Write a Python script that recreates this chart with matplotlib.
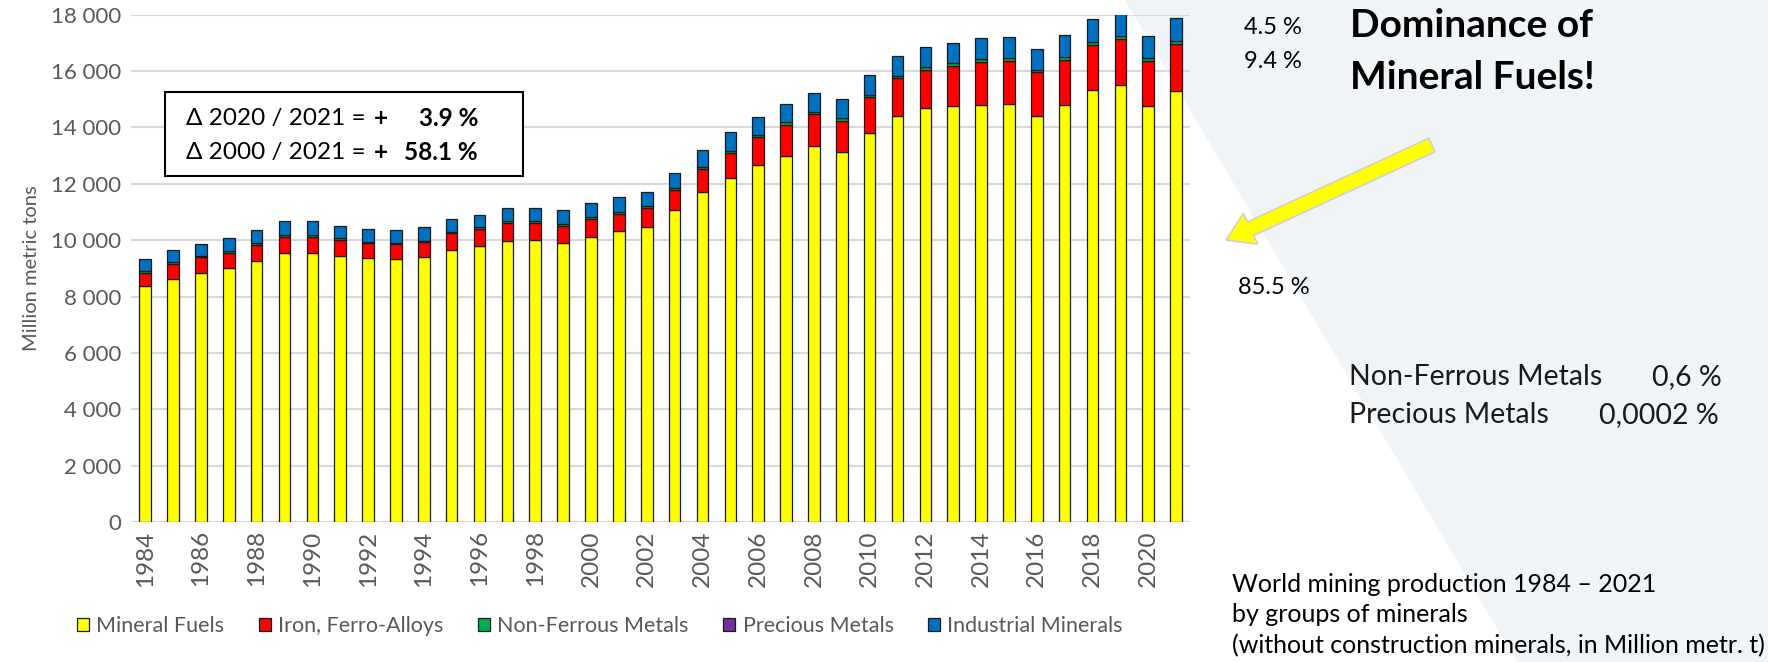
import numpy as np
import matplotlib
matplotlib.use('Agg')
import matplotlib.pyplot as plt
from matplotlib.patches import Polygon, Rectangle, FancyArrow

plt.rcParams['font.family'] = ['Lato', 'DejaVu Sans']

# Datos (millones de toneladas)
años = list(range(1984, 2022))
fuels = [8380, 8615, 8850, 9020, 9265, 9560, 9560, 9430, 9360, 9315,
         9385, 9655, 9800, 9975, 10000, 9895, 10105, 10320, 10460, 11055,
         11705, 12210, 12650, 12995, 13325, 13125, 13820, 14390, 14675, 14745,
         14805, 14825, 14390, 14805, 15335, 15490, 14765, 15310]
iron = [470, 545, 545, 540, 570, 570, 570, 580, 535, 545,
        545, 590, 590, 630, 625, 615, 640, 600, 675, 710,
        815, 880, 995, 1100, 1145, 1120, 1255, 1350, 1370, 1440,
        1525, 1540, 1560, 1595, 1595, 1655, 1600, 1660]
nonferrous = [50, 50, 50, 52, 54, 55, 55, 55, 55, 55,
              55, 58, 60, 62, 63, 63, 65, 66, 67, 70,
              73, 76, 80, 83, 85, 85, 90, 93, 95, 98,
              100, 100, 100, 103, 105, 105, 105, 107]
precious = [0.03] * 38
industrial = [435, 435, 435, 455, 480, 500, 490, 445, 450, 440,
              465, 465, 460, 470, 470, 490, 515, 540, 515, 555,
              615, 655, 640, 650, 660, 675, 680, 685, 700, 730,
              740, 750, 730, 760, 795, 770, 760, 808]

series = [('Mineral Fuels', fuels, '#FFFF00'),
          ('Iron, Ferro-Alloys', iron, '#FF0000'),
          ('Non-Ferrous Metals', nonferrous, '#00B050'),
          ('Precious Metals', precious, '#7030A0'),
          ('Industrial Minerals', industrial, '#0070C0')]

W, H = 1768, 662
fig = plt.figure(figsize=(W / 100, H / 100), dpi=100)
fig.patch.set_facecolor('white')

# Fondo gris-azulado en diagonal (a la derecha), detras de todo
fondo = Polygon([(1125 / W, 1), (1, 1), (1, 0), (1517 / W, 0)],
                closed=True, transform=fig.transFigure,
                facecolor='#F0F4F7', edgecolor='none', zorder=-10)
fig.patches.append(fondo)

ax = fig.add_axes([131.3 / W, 1 - 522 / H, (1190 - 131.3) / W, (522 - 14.7) / H])
ax.set_facecolor('none')

x = np.arange(len(años))
bottom = np.zeros(len(años))
for nombre, valores, color in series:
    ax.bar(x, valores, width=0.415, bottom=bottom, color=color,
           edgecolor='#1a1a1a', linewidth=0.9, label=nombre, zorder=3)
    bottom += np.array(valores)

ax.set_xlim(-0.5, len(años) - 0.5)
ax.set_ylim(0, 18000)
ax.set_yticks(range(0, 18001, 2000))
ax.set_yticklabels([f'{v:,}'.replace(',', ' ') for v in range(0, 18001, 2000)])
ax.set_xticks(x[::2])
ax.set_xticklabels([str(a) for a in años[::2]], rotation=90)
ax.tick_params(length=0, colors='#595959')
ax.tick_params(axis='y', pad=7, labelsize=16)
ax.tick_params(axis='x', pad=6, labelsize=17.5)
ax.grid(axis='y', color='#D9D9D9', linewidth=1.5, zorder=0)
for s in ax.spines.values():
    s.set_visible(False)
ax.set_ylabel('Million metric tons', color='#595959', fontsize=14.5, labelpad=8)

# Leyenda abajo
ax.legend(loc='center', bbox_to_anchor=(600 / W, 1 - 626 / H),
          bbox_transform=fig.transFigure, ncol=5, frameon=False,
          fontsize=15.5, labelcolor='#595959', handlelength=0.55,
          handleheight=0.55, handletextpad=0.35, columnspacing=1.6)

# Caja con variaciones
fig.patches.append(Rectangle((165 / W, 1 - 176 / H), (523 - 165) / W, (176 - 92) / H,
                             transform=fig.transFigure, facecolor='white',
                             edgecolor='black', linewidth=1.5, zorder=5))
for yy, izq, der in [(118, 'Δ 2020 / 2021 =', '3.9 %'), (152, 'Δ 2000 / 2021 =', '58.1 %')]:
    fig.text(186 / W, 1 - yy / H, izq, fontsize=17.5, va='center', ha='left', zorder=6)
    fig.text(381 / W, 1 - yy / H, '+', fontsize=17.5, fontweight='bold', va='center', ha='center', zorder=6)
    fig.text(478 / W, 1 - yy / H, der, fontsize=17.5, fontweight='bold', va='center', ha='right', zorder=6)

# Porcentajes y textos de la derecha
fig.text(1244 / W, 1 - 28 / H, '4.5 %', fontsize=17, va='center')
fig.text(1244 / W, 1 - 62 / H, '9.4 %', fontsize=17, va='center')
fig.text(1238 / W, 1 - 288 / H, '85.5 %', fontsize=17, va='center')
fig.text(1350 / W, 1 - 37 / H, 'Dominance of', fontsize=28, fontweight='bold', va='baseline')
fig.text(1350 / W, 1 - 89 / H, 'Mineral Fuels!', fontsize=28, fontweight='bold', va='baseline')

fig.text(1349 / W, 1 - 385 / H, 'Non-Ferrous Metals', fontsize=20.5, color='#1a1a1a', va='baseline')
fig.text(1652 / W, 1 - 385 / H, '0,6 %', fontsize=20.5, color='#1a1a1a', va='baseline')
fig.text(1349 / W, 1 - 423 / H, 'Precious Metals', fontsize=20.5, color='#1a1a1a', va='baseline')
fig.text(1599 / W, 1 - 423 / H, '0,0002 %', fontsize=20.5, color='#1a1a1a', va='baseline')

fig.text(1232 / W, 1 - 592 / H, 'World mining production 1984 – 2021', fontsize=18, va='baseline')
fig.text(1232 / W, 1 - 622 / H, 'by groups of minerals', fontsize=18, va='baseline')
fig.text(1232 / W, 1 - 653 / H, '(without construction minerals, in Million metr. t)', fontsize=18, va='baseline')

# Flecha amarilla
x0, y0 = 1432 / 100, (H - 145) / 100
x1, y1 = 1226 / 100, (H - 240) / 100
flecha = FancyArrow(x0, y0, x1 - x0, y1 - y0, width=0.15, head_width=0.34,
                    head_length=0.27, length_includes_head=True,
                    transform=fig.dpi_scale_trans, facecolor='#FFFF00',
                    edgecolor='#D0D0D0', linewidth=1.2, zorder=7)
fig.patches.append(flecha)

plt.savefig('out.png', dpi=100)
